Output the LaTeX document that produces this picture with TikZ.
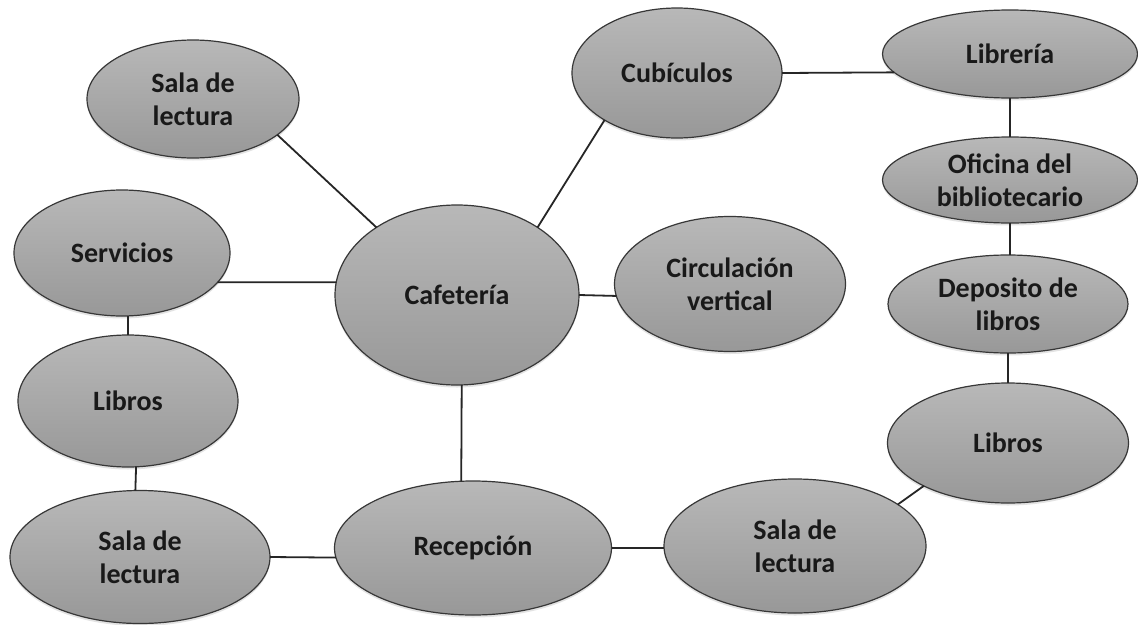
\documentclass[tikz,border=0pt]{standalone}
\usepackage{fontspec}
\setmainfont{Carlito}
\usetikzlibrary{shapes.geometric,shadows}
\definecolor{bgtop}{RGB}{184,184,184}
\definecolor{bgbot}{RGB}{152,152,152}
\definecolor{edgecol}{RGB}{55,55,55}
\definecolor{linkcol}{RGB}{38,38,38}
\begin{document}
\begin{tikzpicture}[x=1pt,y=-1pt,
  blob/.style={ellipse, draw=edgecol, line width=1.2pt, top color=bgtop, bottom color=bgbot,
    inner sep=0pt, outer sep=0pt,
    drop shadow={shadow xshift=0pt, shadow yshift=-2.5pt, opacity=0.22}},
  sz/.style 2 args={minimum width=#1pt, minimum height=#2pt},
  txt/.style={font=\fontsize{28}{33}\selectfont\bfseries, text=black!90, align=center, inner sep=0pt},
  link/.style={draw=linkcol, line width=1.8pt}]
\fill[white] (0,0) rectangle (1138,624);
\useasboundingbox (0,0) rectangle (1138,624);

\node[blob, sz={212}{118}, label={[txt]center:Sala de\\lectura}] (slTL) at (193,99) {};
\node[blob, sz={216}{126}, label={[txt]center:Servicios}] (serv) at (122,253) {};
\node[blob, sz={220}{132}, label={[txt]center:Libros}] (libL) at (128,401) {};
\node[blob, sz={260}{133}, label={[txt]center:Sala de\\lectura}] (slBL) at (140,557) {};
\node[blob, sz={244}{180}, label={[txt]center:Cafetería}] (caf) at (457,295) {};
\node[blob, sz={210}{130}, label={[txt]center:Cubículos}] (cub) at (677,73) {};
\node[blob, sz={231}{135}, label={[txt]center:Circulación\\vertical}] (circ) at (730,284) {};
\node[blob, sz={255}{88}, label={[txt]center:Librería}] (librer) at (1010,54) {};
\node[blob, sz={255}{86}, label={[txt]center:Oficina del\\bibliotecario}] (ofic) at (1010,180) {};
\node[blob, sz={240}{98}, label={[txt]center:Deposito de\\libros}] (depo) at (1008,304) {};
\node[blob, sz={241}{120}, label={[txt]center:Libros}] (libR) at (1008,443) {};
\node[blob, sz={262}{134}, label={[txt]center:Sala de\\lectura}] (slR) at (795,546) {};
\node[blob, sz={277}{134}, label={[txt]center:Recepción}] (recep) at (473,548) {};

\draw[link] (slTL.-23.2) -- (caf.140.8);
\draw[link] (serv.-17.5) -- (caf.174.3);
\draw[link] (libL.north |- serv.south) -- (libL.north);
\draw[link] (libL.-83.9) -- (slBL.94.3);
\draw[link] (slBL.east) -- (recep.184.6);
\draw[link] (caf.-87.5) -- (recep.100);
\draw[link] (caf.40.4) -- (cub.213.7);
\draw[link] (caf.east) -- (circ.186);
\draw[link] (cub.east) -- (librer.189.4);
\draw[link] (librer.south) -- (ofic.north);
\draw[link] (ofic.south) -- (ofic.south |- depo.north);
\draw[link] (depo.south) -- (libR.north);
\draw[link] (libR.207.4) -- (slR.22.7);
\draw[link] (recep.east) -- (recep.east -| slR.west);
\end{tikzpicture}
\end{document}
